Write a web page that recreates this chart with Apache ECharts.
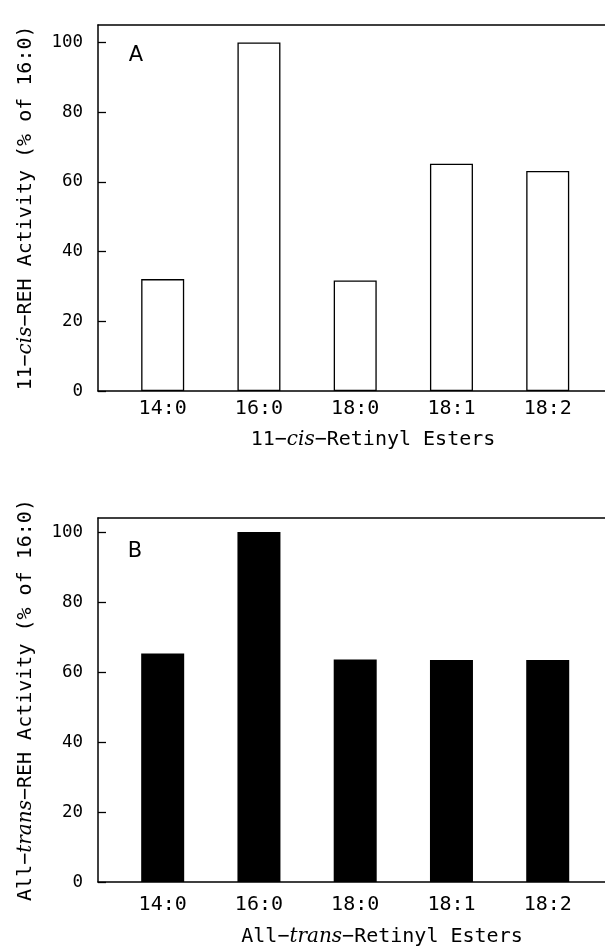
<!DOCTYPE html>
<html><head><meta charset="utf-8">
<script src="https://cdn.jsdelivr.net/npm/echarts@6/dist/echarts.min.js"></script>
<style>html,body{margin:0;padding:0;background:#fff}#c{width:605px;height:950px}</style>
</head><body><div id="c"></div>
<script>
const categories = ['14:0', '16:0', '18:0', '18:1', '18:2'];
const cisValues = [32.1, 100, 31.7, 65.2, 63.1];
const transValues = [65.3, 100, 63.6, 63.4, 63.4];
const yTicks = [0, 20, 40, 60, 80, 100];
const panelLetters = ['A', 'B'];
const cisYTitle = '11\u2212{i|cis}\u2212REH Activity (% of 16:0)';
const transYTitle = 'All\u2212{i|trans}\u2212REH Activity (% of 16:0)';
const cisXTitle = '11\u2212{i|cis}\u2212Retinyl Esters';
const transXTitle = 'All\u2212{i|trans}\u2212Retinyl Esters';

const SANS = 'DejaVu Sans Mono';
const ITAL = 'DejaVu Serif';
const rich = { i: { fontFamily: ITAL, fontStyle: 'italic', fontSize: 20, color: '#000' } };
const XMIN = -0.672, XMAX = 4.595;
const line = { show: true, onZero: false, lineStyle: { color: '#000', width: 1.5 } };

function xAxes(gi, labelMargin) {
  return [
    { type: 'value', gridIndex: gi, position: 'bottom', min: XMIN, max: XMAX,
      axisLine: line, axisTick: { show: false }, splitLine: { show: false },
      axisLabel: { customValues: categories.map((c, i) => i), formatter: v => categories[Math.round(v)],
        fontFamily: SANS, fontSize: 20, color: '#000', margin: labelMargin } },
    { type: 'value', gridIndex: gi, position: 'top', min: XMIN, max: XMAX,
      axisLine: line, axisTick: { show: false }, splitLine: { show: false }, axisLabel: { show: false } }
  ];
}
function yAxis(gi, max, name) {
  return { type: 'value', gridIndex: gi, min: 0, max: max, position: 'left',
    axisLine: line, splitLine: { show: false },
    axisTick: { show: true, inside: true, length: 8, customValues: yTicks, lineStyle: { color: '#000', width: 1.3 } },
    axisLabel: { customValues: yTicks, fontFamily: SANS, fontSize: 17.5, color: '#000', margin: 15 },
    name: name, nameLocation: 'middle', nameRotate: 90, nameGap: 62,
    nameTextStyle: { fontFamily: SANS, fontSize: 20, color: '#000', rich: rich } };
}

const chart = echarts.init(document.getElementById('c'), null, { renderer: 'canvas' });
chart.setOption({
  animation: false,
  backgroundColor: '#fff',
  grid: [
    { left: 98, right: 0, top: 25, height: 366 },
    { left: 98, right: 0, top: 518, height: 364 }
  ],
  xAxis: xAxes(0, 8).concat(xAxes(1, 13)),
  yAxis: [yAxis(0, 105, cisYTitle), yAxis(1, 104, transYTitle)],
  series: [
    { type: 'bar', xAxisIndex: 0, yAxisIndex: 0, barWidth: 43,
      data: cisValues.map((v, i) => [i, v]),
      itemStyle: { color: '#fff', borderColor: '#000', borderWidth: 1.3 } },
    { type: 'bar', xAxisIndex: 2, yAxisIndex: 1, barWidth: 43,
      data: transValues.map((v, i) => [i, v]),
      itemStyle: { color: '#000' } }
  ],
  graphic: [
    { type: 'text', x: 136, y: 56, style: { text: panelLetters[0], fontFamily: 'DejaVu Sans', fontSize: 21, fill: '#000', align: 'center', verticalAlign: 'middle', textAlign: 'center', textVerticalAlign: 'middle' } },
    { type: 'text', x: 135, y: 552, style: { text: panelLetters[1], fontFamily: 'DejaVu Sans', fontSize: 21, fill: '#000', align: 'center', verticalAlign: 'middle', textAlign: 'center', textVerticalAlign: 'middle' } },
    { type: 'text', x: 373, y: 440, style: { text: cisXTitle, rich: rich, fontFamily: SANS, fontSize: 20, fill: '#000', align: 'center', verticalAlign: 'middle', textAlign: 'center', textVerticalAlign: 'middle' } },
    { type: 'text', x: 382, y: 937, style: { text: transXTitle, rich: rich, fontFamily: SANS, fontSize: 20, fill: '#000', align: 'center', verticalAlign: 'middle', textAlign: 'center', textVerticalAlign: 'middle' } }
  ]
});
</script>
</body></html>
